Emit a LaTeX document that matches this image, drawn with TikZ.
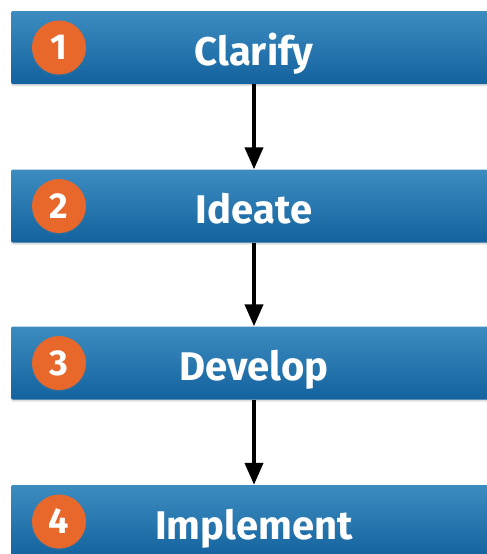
\documentclass[tikz,border=0pt]{standalone}
\usepackage{fontspec}
\setmainfont{Fira Sans}
\usetikzlibrary{arrows.meta,shadows}
\definecolor{bartop}{HTML}{3C8CC0}
\definecolor{barbot}{HTML}{14629E}
\definecolor{badge}{HTML}{E8672A}
\tikzset{
  stepbar/.style={rectangle, rounded corners=2pt, minimum width=486pt, minimum height=73pt,
    top color=bartop, bottom color=barbot, draw=none, text=white,
    font=\fontsize{40}{48}\selectfont\bfseries, text height=35pt, text depth=0pt,
    drop shadow={shadow xshift=0pt, shadow yshift=-2pt, opacity=0.25}},
  badgenum/.style={circle, minimum size=54pt, fill=badge, text=white, inner sep=0pt,
    font=\fontsize{36}{40}\selectfont\bfseries, text height=24pt, text depth=0pt,
    drop shadow={shadow xshift=0pt, shadow yshift=-1.5pt, opacity=0.2}},
  flow/.style={line width=4pt, -{Triangle[width=18pt,length=22pt]}}
}
\begin{document}
\begin{tikzpicture}[x=1pt,y=-1pt]
\useasboundingbox[fill=white] (0,0) rectangle (487,554);
\node[stepbar] (s1) at (254,47.5) {Clarify};
\node[stepbar] (s2) at (254,206) {Ideate};
\node[stepbar] (s3) at (254,363) {Develop};
\node[stepbar] (s4) at (254,521.5) {Implement};
\node[badgenum] (n1) at (59,47.5) {1};
\node[badgenum] (n2) at (59,206) {2};
\node[badgenum] (n3) at (59,363) {3};
\node[badgenum] (n4) at (59,521.5) {4};
\draw[flow] (s1.south) -- (s2.north);
\draw[flow] (s2.south) -- (s3.north);
\draw[flow] (s3.south) -- (s4.north);
\end{tikzpicture}
\end{document}
